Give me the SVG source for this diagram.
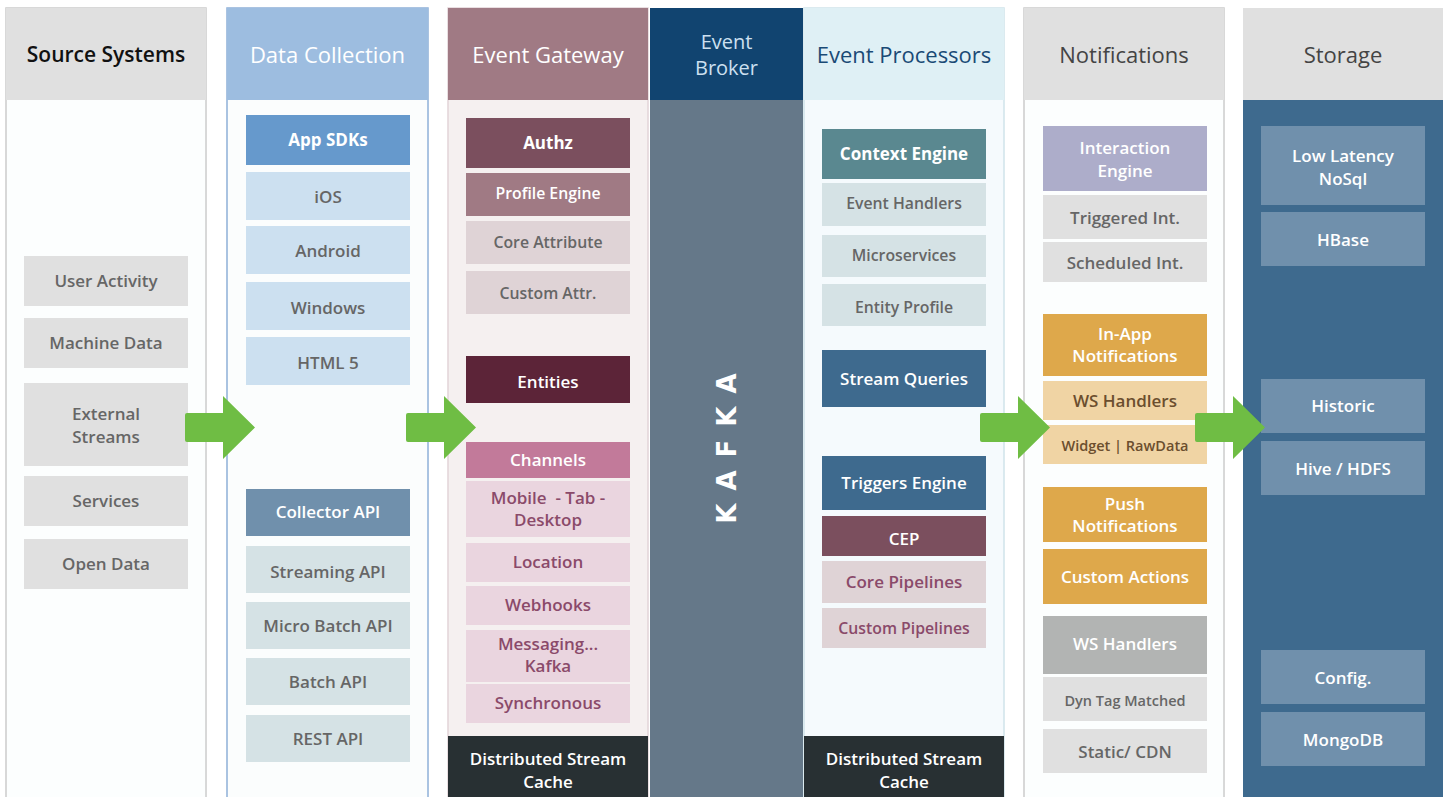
<svg xmlns="http://www.w3.org/2000/svg" width="1447" height="797" viewBox="0 0 1447 797">
<style>
text{font-family:"Open Sans","Liberation Sans",sans-serif;text-anchor:middle;dominant-baseline:central;font-weight:600;font-size:17px;white-space:pre}
.h{font-size:22px;font-weight:500}
.b{font-weight:700}
.s{font-size:15.8px}
.w{fill:#ffffff}
.g{fill:#666666}
.p{fill:#8a4a6a}
.arr{fill:#6fbd44}
</style>
<rect width="1447" height="797" fill="#ffffff"/>
<!-- columns -->
<g id="col-source">
<rect x="6" y="8" width="200" height="795" fill="#fcfefe" stroke="#cccccc" stroke-width="1.5"/>
<rect x="6" y="8" width="200" height="92" fill="#e0e0e0"/>
<text class="h" x="106" y="54" fill="#111111" style="font-weight:600;font-size:21px">Source Systems</text>
</g>
<g id="col-collection">
<rect x="227" y="8" width="201" height="795" fill="#fbfdfd" stroke="#8fb0d8" stroke-width="1.5"/>
<rect x="227" y="8" width="201" height="92" fill="#9dbde0"/>
<text class="h w" x="327.5" y="54">Data Collection</text>
</g>
<g id="col-gateway">
<rect x="448" y="8" width="200" height="795" fill="#f5f0f0" stroke="#e2d4d8" stroke-width="1.5"/>
<rect x="448" y="8" width="200" height="92" fill="#a07a84"/>
<text class="h w" x="548" y="54">Event Gateway</text>
<rect x="448" y="736" width="200" height="61" fill="#283033"/>
<text class="w" x="548" y="758">Distributed Stream</text>
<text class="w" x="548" y="781">Cache</text>
</g>
<g id="col-broker">
<rect x="650" y="8" width="153" height="92" fill="#114470"/>
<rect x="650" y="100" width="153" height="697" fill="#657889"/>
<text class="h" x="726.5" y="41" fill="#cde0f0" style="font-size:20px">Event</text>
<text class="h" x="726.5" y="67" fill="#cde0f0" style="font-size:20px">Broker</text>
<text x="0" y="0" transform="translate(727,442) rotate(-90)" class="w b" style="font-size:26px;letter-spacing:13px;font-family:'DejaVu Sans','Open Sans',sans-serif">KAFKA</text>
</g>
<g id="col-processors">
<rect x="804" y="8" width="200" height="795" fill="#f5fafd" stroke="#cfe3ea" stroke-width="1.5"/>
<rect x="804" y="8" width="200" height="92" fill="#dff0f5"/>
<text class="h" x="904" y="54" fill="#1a4a75">Event Processors</text>
<rect x="804" y="736" width="200" height="61" fill="#283033"/>
<text class="w" x="904" y="758">Distributed Stream</text>
<text class="w" x="904" y="781">Cache</text>
</g>
<g id="col-notifications">
<rect x="1024" y="8" width="200" height="795" fill="#fcfefe" stroke="#cccccc" stroke-width="1.5"/>
<rect x="1024" y="8" width="200" height="92" fill="#e0e0e0"/>
<text class="h" x="1124" y="54" fill="#444444">Notifications</text>
</g>
<g id="col-storage">
<rect x="1243" y="8" width="200" height="92" fill="#e0e0e0"/>
<rect x="1243" y="100" width="200" height="697" fill="#3e6a8e"/>
<text class="h" x="1343" y="54" fill="#444444">Storage</text>
</g>

<!-- Source Systems nodes -->
<g id="n-user-activity"><rect x="24" y="256" width="164" height="50" fill="#e0e0e0"/><text class="g" x="106" y="280">User Activity</text></g>
<g id="n-machine-data"><rect x="24" y="318" width="164" height="50" fill="#e0e0e0"/><text class="g" x="106" y="342">Machine Data</text></g>
<g id="n-external-streams"><rect x="24" y="383" width="164" height="83" fill="#e0e0e0"/><text class="g" x="106" y="413">External</text><text class="g" x="106" y="436">Streams</text></g>
<g id="n-services"><rect x="24" y="476" width="164" height="50" fill="#e0e0e0"/><text class="g" x="106" y="500">Services</text></g>
<g id="n-open-data"><rect x="24" y="539" width="164" height="50" fill="#e0e0e0"/><text class="g" x="106" y="563">Open Data</text></g>

<!-- Data Collection nodes -->
<g id="n-app-sdks"><rect x="246" y="115" width="164" height="50" fill="#6699cc"/><text class="w b" x="328" y="139">App SDKs</text></g>
<g id="n-ios"><rect x="246" y="172" width="164" height="48" fill="#cce0f0"/><text class="g" x="328" y="196">iOS</text></g>
<g id="n-android"><rect x="246" y="226" width="164" height="48" fill="#cce0f0"/><text class="g" x="328" y="250">Android</text></g>
<g id="n-windows"><rect x="246" y="282" width="164" height="48" fill="#cce0f0"/><text class="g" x="328" y="307">Windows</text></g>
<g id="n-html5"><rect x="246" y="337" width="164" height="48" fill="#cce0f0"/><text class="g" x="328" y="362">HTML 5</text></g>
<g id="n-collector-api"><rect x="246" y="489" width="164" height="47" fill="#7090ac"/><text class="w" x="328" y="511">Collector API</text></g>
<g id="n-streaming-api"><rect x="246" y="546" width="164" height="47" fill="#d5e2e5"/><text class="g" x="328" y="571">Streaming API</text></g>
<g id="n-micro-batch-api"><rect x="246" y="602" width="164" height="47" fill="#d5e2e5"/><text class="g" x="328" y="625">Micro Batch API</text></g>
<g id="n-batch-api"><rect x="246" y="658" width="164" height="47" fill="#d5e2e5"/><text class="g" x="328" y="681">Batch API</text></g>
<g id="n-rest-api"><rect x="246" y="715" width="164" height="47" fill="#d5e2e5"/><text class="g" x="328" y="738">REST API</text></g>

<!-- Event Gateway nodes -->
<g id="n-authz"><rect x="466" y="118" width="164" height="50" fill="#7b4f5e"/><text class="w b" x="548" y="142">Authz</text></g>
<g id="n-profile-engine"><rect x="466" y="173" width="164" height="43" fill="#a07a84"/><text class="w s" x="548" y="193">Profile Engine</text></g>
<g id="n-core-attribute"><rect x="466" y="221" width="164" height="43" fill="#dfd3d6"/><text class="g s" x="548" y="242">Core Attribute</text></g>
<g id="n-custom-attr"><rect x="466" y="271" width="164" height="43" fill="#dfd3d6"/><text class="g s" x="548" y="293">Custom Attr.</text></g>
<g id="n-entities"><rect x="466" y="356" width="164" height="47" fill="#5c2438"/><text class="w" x="548" y="381">Entities</text></g>
<g id="n-channels"><rect x="466" y="442" width="164" height="36" fill="#c27a9a"/><text class="w" x="548" y="459">Channels</text></g>
<g id="n-mobile"><rect x="466" y="481" width="164" height="56" fill="#ead5df"/><text class="p" x="548" y="497">Mobile  - Tab -</text><text class="p" x="548" y="519">Desktop</text></g>
<g id="n-location"><rect x="466" y="543" width="164" height="39" fill="#ead5df"/><text class="p" x="548" y="561">Location</text></g>
<g id="n-webhooks"><rect x="466" y="586" width="164" height="39" fill="#ead5df"/><text class="p" x="548" y="604">Webhooks</text></g>
<g id="n-messaging"><rect x="466" y="630" width="164" height="52" fill="#ead5df"/><text class="p" x="548" y="643">Messaging...</text><text class="p" x="548" y="665">Kafka</text></g>
<g id="n-synchronous"><rect x="466" y="684" width="164" height="39" fill="#ead5df"/><text class="p" x="548" y="702">Synchronous</text></g>

<!-- Event Processors nodes -->
<g id="n-context-engine"><rect x="822" y="129" width="164" height="50" fill="#5a8890"/><text class="w b" x="904" y="153">Context Engine</text></g>
<g id="n-event-handlers"><rect x="822" y="183" width="164" height="43" fill="#d5e2e5"/><text class="g s" x="904" y="203">Event Handlers</text></g>
<g id="n-microservices"><rect x="822" y="235" width="164" height="42" fill="#d5e2e5"/><text class="g s" x="904" y="255">Microservices</text></g>
<g id="n-entity-profile"><rect x="822" y="284" width="164" height="42" fill="#d5e2e5"/><text class="g s" x="904" y="307">Entity Profile</text></g>
<g id="n-stream-queries"><rect x="822" y="350" width="164" height="57" fill="#3e6a8e"/><text class="w" x="904" y="378">Stream Queries</text></g>
<g id="n-triggers-engine"><rect x="822" y="456" width="164" height="54" fill="#3e6a8e"/><text class="w" x="904" y="482">Triggers Engine</text></g>
<g id="n-cep"><rect x="822" y="516" width="164" height="40" fill="#7b4f5e"/><text class="w" x="904" y="538">CEP</text></g>
<g id="n-core-pipelines"><rect x="822" y="561" width="164" height="42" fill="#dfd3d6"/><text class="p" x="904" y="581">Core Pipelines</text></g>
<g id="n-custom-pipelines"><rect x="822" y="608" width="164" height="40" fill="#dfd3d6"/><text class="p s" x="904" y="628">Custom Pipelines</text></g>

<!-- Notifications nodes -->
<g id="n-interaction-engine"><rect x="1043" y="126" width="164" height="65" fill="#adadca"/><text class="w" x="1125" y="147">Interaction</text><text class="w" x="1125" y="170">Engine</text></g>
<g id="n-triggered-int"><rect x="1043" y="195" width="164" height="44" fill="#e0e0e0"/><text class="g" x="1125" y="217">Triggered Int.</text></g>
<g id="n-scheduled-int"><rect x="1043" y="242" width="164" height="40" fill="#e0e0e0"/><text class="g" x="1125" y="262">Scheduled Int.</text></g>
<g id="n-inapp"><rect x="1043" y="314" width="164" height="62" fill="#dea84b"/><text class="w" x="1125" y="333">In-App</text><text class="w" x="1125" y="355">Notifications</text></g>
<g id="n-ws-handlers-1"><rect x="1043" y="381" width="164" height="39" fill="#f0d4a4"/><text x="1125" y="400" fill="#6b4e2e">WS Handlers</text></g>
<g id="n-widget"><rect x="1043" y="425" width="164" height="39" fill="#f0d4a4"/><text x="1125" y="445" fill="#6b4e2e" style="font-size:14.5px">Widget | RawData</text></g>
<g id="n-push"><rect x="1043" y="487" width="164" height="55" fill="#dea84b"/><text class="w" x="1125" y="503">Push</text><text class="w" x="1125" y="525">Notifications</text></g>
<g id="n-custom-actions"><rect x="1043" y="549" width="164" height="55" fill="#dea84b"/><text class="w" x="1125" y="576">Custom Actions</text></g>
<g id="n-ws-handlers-2"><rect x="1043" y="616" width="164" height="58" fill="#b2b4b3"/><text class="w" x="1125" y="643">WS Handlers</text></g>
<g id="n-dyn-tag"><rect x="1043" y="677" width="164" height="44" fill="#e0e0e0"/><text class="g" x="1125" y="700" style="font-size:14.5px">Dyn Tag Matched</text></g>
<g id="n-static-cdn"><rect x="1043" y="729" width="164" height="44" fill="#e0e0e0"/><text class="g" x="1125" y="751">Static/ CDN</text></g>

<!-- Storage nodes -->
<g id="n-low-latency"><rect x="1261" y="126" width="164" height="79" fill="#7090ac"/><text class="w" x="1343" y="155">Low Latency</text><text class="w" x="1343" y="178">NoSql</text></g>
<g id="n-hbase"><rect x="1261" y="212" width="164" height="54" fill="#7090ac"/><text class="w" x="1343" y="239">HBase</text></g>
<g id="n-historic"><rect x="1261" y="379" width="164" height="54" fill="#7090ac"/><text class="w" x="1343" y="405">Historic</text></g>
<g id="n-hive"><rect x="1261" y="441" width="164" height="54" fill="#7090ac"/><text class="w" x="1343" y="468">Hive / HDFS</text></g>
<g id="n-config"><rect x="1261" y="650" width="164" height="54" fill="#7090ac"/><text class="w" x="1343" y="677">Config.</text></g>
<g id="n-mongodb"><rect x="1261" y="712" width="164" height="54" fill="#7090ac"/><text class="w" x="1343" y="739">MongoDB</text></g>

<!-- connectors -->
<defs>
<path id="bigarrow" d="M0,2 Q0,0 2,0 L38,0 L38,-17 L70,14.5 L38,46 L38,29 L2,29 Q0,29 0,27 Z"/>
</defs>
<g id="connectors" class="arr">
<use href="#bigarrow" x="185" y="413"/>
<use href="#bigarrow" x="406" y="413"/>
<use href="#bigarrow" x="980" y="413"/>
<use href="#bigarrow" x="1195" y="413"/>
</g>
</svg>
